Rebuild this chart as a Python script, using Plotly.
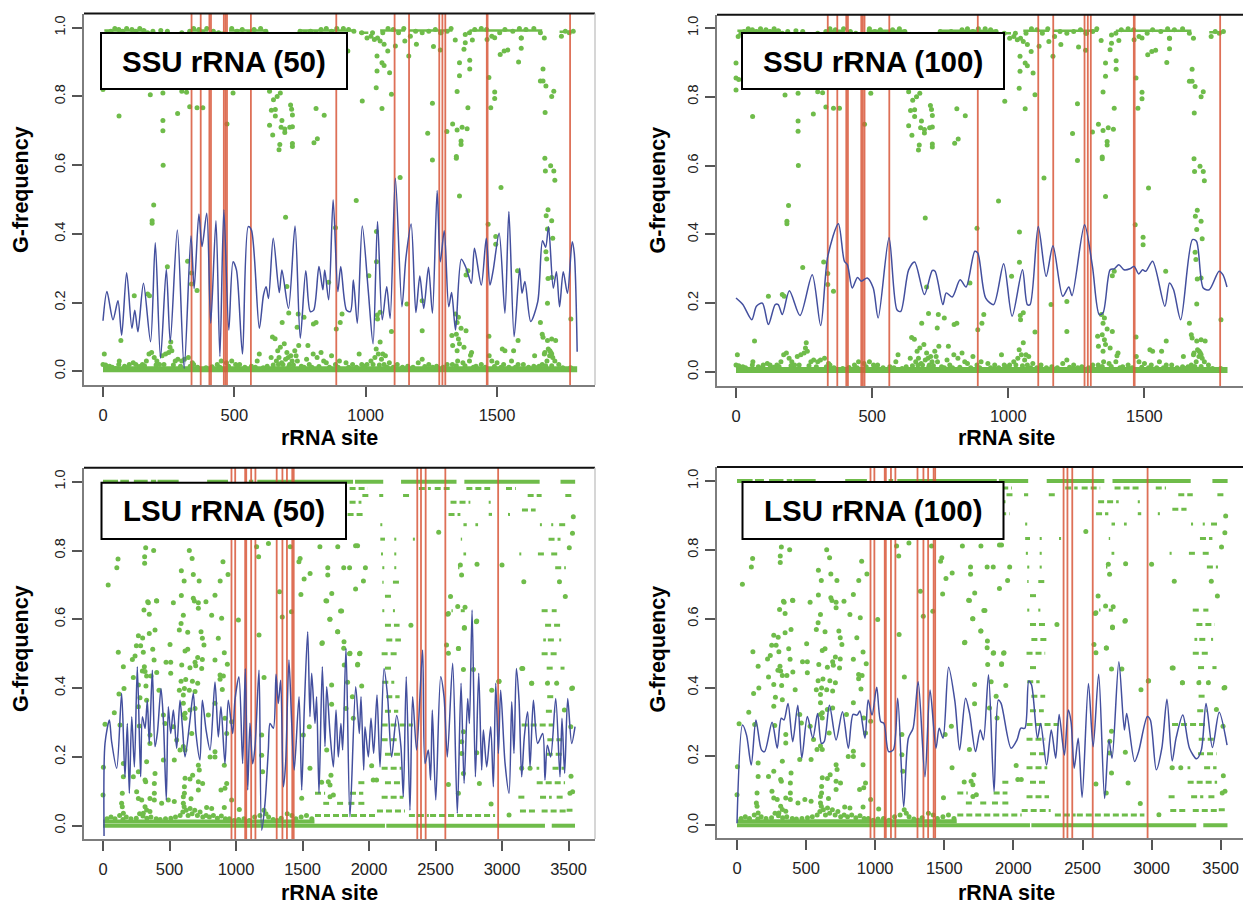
import plotly.graph_objects as go

GREEN = "#6fbc4a"
BLUE = "#434f9e"
RED = "#d9583a"

SSU_RED_SITES = [337, 372, 405, 411, 460, 466, 472, 563, 888, 1110, 1165, 1280, 1292, 1303, 1461, 1464, 1778]
LSU_RED_SITES = [966, 994, 1069, 1077, 1114, 1146, 1306, 1349, 1383, 1423, 1434, 2363, 2391, 2426, 2574, 2971]

SSU50_SITE = [0,15,38,57,71,90,110,121,133,154,181,199,219,241,256,283,309,335,347,365,377,395,410,430,445,460,479,495,508,531,553,565,595,611,621,630,648,671,681,706,731,751,772,789,802,822,837,844,859,876,894,905,927,942,953,968,987,1010,1028,1045,1063,1080,1093,1113,1138,1153,1173,1191,1206,1221,1239,1254,1272,1284,1299,1316,1327,1342,1364,1384,1402,1414,1440,1459,1473,1485,1508,1530,1545,1565,1586,1595,1606,1628,1655,1673,1685,1696,1714,1726,1738,1752,1768,1786,1794,1805]
SSU50_VALUE = [.147,.232,.15,.205,.105,.287,.125,.178,.115,.256,.086,.374,.038,.297,.086,.411,.009,.394,.241,.458,.363,.46,.14,.438,.043,.47,.12,.319,.295,.05,.421,.411,.125,.222,.246,.212,.387,.229,.295,.183,.423,.096,.293,.174,.178,.305,.237,.295,.208,.499,.232,.305,.178,.174,.266,.14,.423,.232,.08,.436,.15,.246,.154,.562,.188,.329,.429,.171,.277,.183,.303,.169,.526,.319,.409,.188,.229,.12,.326,.297,.256,.358,.251,.387,.251,.293,.402,.169,.465,.101,.30,.227,.261,.145,.203,.38,.361,.421,.242,.29,.188,.29,.227,.377,.343,.057]

SSU100_SITE = [0,25,58,75,97,119,144,155,170,196,235,280,311,337,376,398,409,427,446,460,482,504,522,562,591,605,634,656,692,721,731,760,772,794,823,845,877,888,917,946,983,1014,1052,1070,1080,1110,1139,1164,1200,1222,1234,1280,1309,1334,1348,1374,1389,1406,1425,1447,1462,1479,1493,1505,1530,1575,1592,1607,1633,1676,1691,1716,1738,1774,1788,1803]
SSU100_VALUE = [.215,.196,.152,.191,.2,.138,.196,.196,.167,.236,.164,.283,.135,.336,.431,.322,.312,.244,.275,.264,.273,.244,.157,.39,.181,.176,.297,.32,.225,.295,.293,.196,.23,.218,.268,.247,.351,.346,.215,.196,.315,.162,.297,.196,.196,.423,.278,.367,.22,.247,.222,.428,.307,.167,.172,.297,.30,.312,.297,.30,.307,.285,.297,.293,.322,.191,.259,.239,.152,.385,.38,.244,.239,.293,.283,.247]

LSU50_SITE = [8,15,48,65,103,140,165,183,198,216,236,258,283,296,316,333,348,371,391,409,436,454,476,491,509,529,554,579,597,617,654,679,699,729,747,775,805,842,867,887,917,942,975,992,1022,1050,1070,1088,1105,1125,1143,1173,1193,1218,1243,1256,1281,1301,1318,1336,1356,1373,1398,1418,1438,1474,1494,1514,1539,1556,1569,1594,1606,1624,1649,1669,1682,1707,1732,1752,1769,1789,1802,1827,1857,1900,1927,1940,1960,1970,1995,2015,2035,2060,2083,2113,2140,2170,2208,2240,2258,2280,2308,2328,2358,2403,2421,2446,2463,2476,2502,2539,2564,2589,2629,2664,2692,2715,2742,2755,2775,2800,2825,2847,2860,2885,2915,2935,2953,2973,2990,3023,3053,3073,3090,3108,3128,3148,3168,3193,3211,3236,3268,3306,3323,3341,3366,3404,3436,3451,3471,3494,3524,3549]
LSU50_VALUE = [-.03,.239,.307,.244,.167,.385,.142,.297,.094,.317,.171,.462,.142,.317,.283,.365,.239,.452,.23,.27,.399,.307,.075,.346,.268,.336,.225,.365,.288,.2,.307,.385,.268,.191,.365,.278,.22,.418,.258,.346,.18,.365,.268,.365,.433,.181,.457,.104,.298,.18,.23,.452,-.013,.065,.22,.297,.283,.44,.355,.423,.113,.181,.482,.307,.162,.375,.104,.346,.564,.317,.443,.297,.375,.094,.462,.23,.404,.268,.171,.336,.2,.297,.22,.515,.026,.404,.268,.375,.162,.288,.2,.312,.21,.38,.171,.457,.375,.2,.32,.23,.084,.433,.045,.375,.22,.511,.181,.22,.133,.336,.075,.433,.375,.2,.472,.036,.414,.123,.37,.297,.627,.142,.443,.162,.278,.171,.288,.113,.414,.21,.394,.181,.094,.36,.21,.457,.365,.142,.259,.331,.171,.365,.239,.268,.133,.234,.2,.37,.142,.312,.152,.37,.239,.288]

LSU100_SITE = [0,40,69,103,137,177,200,254,291,320,340,369,403,440,469,509,549,583,611,631,669,717,763,806,840,869,889,926,949,977,1011,1040,1063,1097,1131,1163,1206,1240,1274,1311,1360,1397,1440,1463,1491,1531,1577,1611,1654,1683,1726,1760,1783,1820,1860,1891,1911,1983,2026,2054,2083,2111,2131,2174,2197,2240,2274,2306,2331,2369,2397,2417,2440,2469,2497,2543,2577,2617,2660,2691,2714,2763,2803,2820,2877,2906,2969,2991,3034,3074,3111,3149,3177,3226,3274,3326,3360,3394,3440,3489,3546]
LSU100_VALUE = [.006,.291,.262,.175,.306,.219,.214,.299,.224,.311,.306,.354,.243,.349,.195,.316,.253,.325,.238,.243,.349,.248,.33,.224,.322,.32,.332,.253,.364,.32,.401,.301,.296,.214,.219,.369,.054,.253,.282,.417,.141,.393,.224,.282,.253,.459,.359,.219,.369,.325,.214,.277,.248,.437,.098,.364,.354,.224,.248,.282,.282,.419,.408,.253,.296,.175,.277,.195,.322,.204,.335,.301,.166,.253,.081,.412,.228,.439,.078,.248,.195,.475,.277,.325,.185,.214,.316,.306,.161,.224,.366,.187,.253,.32,.224,.193,.219,.354,.226,.328,.233]

# dense rows of points read as extents
SSU_SOLID_VALUE = [.006]
SSU_SOLID_START = [0]
SSU_SOLID_END = [1805]
SSU_TOP_VALUE = [.992,.992,.985,.992,.992,.985,.992,.992,.992,.988]
SSU_TOP_START = [5,335,420,480,745,975,1055,1165,1395,1738]
SSU_TOP_END = [165,400,465,625,960,1010,1150,1330,1672,1790]

SSU_PT_SITE = [0,0,10,0,61,180,228,228,228,229,284,330,358,380,300,318,472,495,634,649,663,675,641,656,656,634,646,681,678,692,692,714,718,721,721,711,673,670,721,721,811,842,816,803,987,1040,1062,1098,1254,1236,1254,1309,1331,1348,1367,1386,1363,1363,1345,1345,1357,1389,1348,1357,1357,1396,1396,1379,1374,1379,1341,1406,1469,1491,1491,1476,1512,1527,1541,1582,1592,1592,1665,1675,1675,1686,1716,1708,1683,1682,1684,1704,1716,1720,1515,1694,1687,1708,1692,1712,1466,1495,1495,1131,964,1041,885,695,193,187,187,245,322,337,337,358,170,177,119,1041,1012,859,700,1578,1694,1708,1689,1686,1382,1389,1157,1215,1692,1781,1665,682,707,743,765,739,801,811,910,903,888,1098,1215,1044,1055,1045,1342,1353,1348,1363,1382,1345,1353,1357,1328,1331,1348,1374,1403,1399,1469,1520,1563,1580,1672,1675,1692,1708,1723,1682,1701,1708,1643,1033,1055,1070,1084,1043,1062,1070,1043,1091,1113,1149,1193,1258,1284,1287,1164,932,903,823,1026,1462,1491,1592,
5,0,10,25,60,62,68,100,115,125,150,165,175,185,195,205,215,225,238,250,255,258,262,275,285,300,310,325,340,345,435,450,470,490,505,520,565,587,595,625,640,645,655,660,665,670,675,680,690,695,700,705,710,715,720,730,735,740,745,755,775,780,785,800,815,830,840,850,870,885,900,925,950,975,985,1005,1020,1035,1040,1048,1055,1060,1065,1070,1075,1090,1120,1160,1200,1215,1240,1270,1310,1330,1350,1370,1395,1420,1440,1470,1480,1500,1525,1530,1555,1580,1600,1640,1660,1672,1680,1690,1695,1700,1705,1712,1720,1735,
8,18,30,45,60,75,90,110,125,140,155,170,190,220,245,300,330,345,365,380,395,420,440,490,510,530,555,575,600,620,750,770,790,810,830,850,870,890,915,935,955,985,1005,1020,1045,1065,1085,1105,1125,1145,1170,1190,1215,1240,1265,1285,1310,1325,1395,1415,1440,1460,1480,1510,1530,1560,1585,1610,1640,1665,1680,1745,1760,1775,1790,
35,48,82,95,138,158,202,232,268,295,332,360,392,415,445,478,512,540,580,610,648,668,685,708,725,765,795,822,862,895,935,965,995,1028,1052,1082,1105,1140,1180,1225,1255,1295,1345,1378,1410,1455,1490,1515,1545,1570,1620,1650,1685,1708,1750,1780]
SSU_PT_VALUE = [.898,.855,.85,.82,.743,.805,.81,.73,.70,.60,.75,.77,.767,.767,.815,.812,.72,.81,.815,.79,.80,.81,.76,.762,.743,.716,.688,.73,.71,.705,.695,.775,.763,.746,.712,.71,.66,.645,.663,.654,.765,.745,.677,.665,.787,.825,.765,.806,.78,.693,.615,.698,.72,.702,.71,.706,.67,.66,.625,.62,.51,.767,.814,.86,.898,.905,.88,.956,.937,.98,.964,.964,.855,.813,.794,.767,.922,.932,.935,.90,.97,.94,.845,.845,.88,.83,.815,.80,.753,.62,.583,.598,.583,.556,.535,.47,.453,.438,.414,.387,.428,.392,.37,.564,.497,.407,.418,.448,.484,.438,.431,.304,.32,.286,.254,.235,.225,.22,.22,.319,.278,.259,.247,.293,.27,.273,.327,.348,.28,.293,.196,.205,.198,.152,.142,.142,.17,.167,.157,.128,.138,.142,.167,.142,.123,.116,.118,.164,.172,.152,.167,.157,.142,.125,.118,.108,.094,.08,.104,.075,.06,.07,.055,.047,.102,.065,.06,.09,.108,.099,.09,.094,.09,.055,.06,.05,.045,.966,.961,.952,.932,.918,.898,.89,.874,.869,.947,.961,.952,.945,.935,.985,.918,.932,.937,.932,.985,.966,.971,.97,
.05,.02,.018,.015,.02,.03,.09,.02,.025,.02,.02,.03,.05,.055,.04,.03,.02,.045,.05,.055,.07,.085,.06,.03,.035,.03,.035,.04,.025,.02,.02,.03,.025,.03,.02,.02,.015,.03,.05,.015,.04,.1,.095,.03,.06,.04,.07,.025,.08,.035,.055,.04,.02,.045,.03,.06,.045,.03,.075,.015,.035,.075,.02,.05,.04,.055,.03,.025,.045,.02,.03,.025,.02,.05,.02,.02,.03,.04,.065,.05,.085,.035,.05,.02,.045,.025,.02,.015,.025,.035,.02,.015,.02,.02,.03,.025,.03,.015,.02,.045,.03,.025,.02,.06,.03,.02,.02,.015,.015,.02,.05,.03,.065,.045,.055,.04,.03,.02,
.975,.985,.99,.998,.995,.99,.998,.995,.99,.998,.992,.985,.99,.992,.99,.985,.99,.998,.995,.985,.998,.99,.985,.998,.99,.995,.985,.995,.998,.99,.99,.985,.99,.985,.995,.998,.99,.998,.998,.995,.99,.985,.97,.975,.97,.985,.998,.995,.985,.998,.975,.99,.985,.99,.995,.985,.99,.998,.985,.995,.998,.995,.975,.985,.995,.99,.998,.995,.998,.985,.97,.975,.99,.985,.99,
.012,.008,.015,.012,.014,.016,.018,.02,.018,.015,.015,.012,.01,.013,.012,.015,.012,.012,.012,.01,.018,.02,.02,.015,.018,.012,.012,.014,.012,.012,.012,.012,.015,.02,.018,.012,.012,.012,.012,.014,.012,.012,.016,.016,.012,.012,.014,.012,.012,.012,.012,.01,.016,.016,.01,.01]

LSU_SOLID_VALUE = [0,0,0,1,1,1,1,1,1,1,1,1,1,1,1,.012]
LSU_SOLID_START = [0,2130,3374,0,130,232,360,410,783,1097,1160,1895,2241,2717,3440,0]
LSU_SOLID_END = [2120,3323,3549,113,195,336,400,569,940,1130,1880,2107,2658,3283,3550,1590]
LSU_ROW_VALUE = [.98,.98,.98,.98,.98,.96,.96,.96,.96,.96,.94,.94,.94,.905,.905,.905,.905,.918,.875,.875,.875,.875,.875,.875,.833,.833,.833,.833,.833,.79,.79,.79,.79,.79,.79,.75,.75,.75,.75,.708,.708,.667,.625,.625,.625,.625,.625,.625,.583,.583,.54,.54,.54,.54,.5,.5,.458,.458,.458,.417,.417,.417,.375,.375,.333,.333,.293,.293,.25,.25,.208,.208,.167,.167,.167,.167,.125,.125,.125,.083,.083,.083,.083,.043,.043,.043,.045,.03,.03,.03,.065,.065,.065,.065,.094,.094]
LSU_ROW_START = [1854,2375,2494,2732,3030,1950,2077,2256,3193,3476,1854,2613,2900,1839,2598,2900,3045,3150,2085,2710,2800,3285,3370,3430,2085,2190,2330,2690,3350,2090,2190,2710,3130,3270,3370,2100,2190,2670,3400,2100,2180,2120,2100,2180,2620,2690,3298,3374,2120,3324,2130,3310,3345,3430,2095,3298,2120,3336,3440,2100,3340,3410,2130,3340,2120,3330,2095,3148,2095,3341,2120,3336,2095,3150,3260,3380,2120,1920,3261,2095,3123,3286,3411,2060,3135,3298,3486,1594,2459,2300,1656,1760,1845,1920,1594,1857]
LSU_ROW_END = [1990,2465,2628,2911,3104,2010,2107,2315,3298,3535,1943,2762,2915,1973,2687,2925,3060,3253,2100,2735,2820,3300,3385,3475,2120,2205,2345,2700,3440,2105,2205,2730,3145,3330,3430,2115,2205,2680,3480,2110,2230,2170,2115,2195,2630,2720,3349,3411,2230,3456,2240,3330,3395,3445,2230,3411,2180,3385,3470,2190,3355,3420,2230,3390,2220,3400,2330,3386,2230,3461,2250,3470,2245,3165,3280,3470,2245,1970,3474,2258,3173,3374,3474,2270,3261,3486,3530,2060,2948,2450,1700,1815,1900,1970,1670,1957]

LSU_PT_SITE = [341,404,529,687,717,774,308,348,604,717,817,892,1018,587,574,637,391,266,298,348,737,747,867,1173,251,283,504,759,115,303,374,617,637,241,221,384,712,747,842,912,153,311,474,509,592,654,692,697,742,935,296,328,361,404,509,228,323,266,316,587,622,672,712,880,905,880,1211,120,158,574,612,649,604,278,328,421,692,897,85,266,454,604,617,654,842,692,15,128,273,466,529,604,617,792,917,967,667,554,353,353,930,1193,842,842,604,617,579,912,805,1193,328,454,536,1200,3,153,717,724,266,391,617,654,674,153,228,316,321,386,612,717,749,717,887,930,917,0,145,253,386,612,604,266,291,353,386,662,536,491,140,145,316,441,328,353,604,779,817,912,967,1025,153,303,
39,104,113,321,381,313,313,336,402,649,670,589,679,610,723,679,589,902,940,881,842,1155,1244,1170,1327,1348,1417,1408,1482,1473,1557,1512,1488,1631,1765,1899,1914,1690,1690,1810,1854,1973,1720,1676,1705,1786,1765,1958,1899,1646,1810,1854,1929,1914,1839,2315,2524,2583,2673,2717,2807,2687,2812,2696,2613,3000,2592,2976,3476,3432,3164,3506,3530,3536,3223,3342,3411,3530,3149,
1506,1551,1556,1494,1682,1719,1719,1714,1644,1694,1707,1732,1707,1857,1932,1915,1814,1945,1875,1882,2020,2032,2057,1827,1649,1764,1812,1707,1794,1682,2667,2722,2810,2717,2672,2710,2597,2597,2785,2923,2978,2710,2697,2697,2710,2672,2918,3053,2830,2597,2810,3156,3223,3211,3148,3524,3519,3531,3511,3469,3517,
30,60,90,125,150,175,210,250,275,300,330,360,400,430,470,510,545,580,600,610,625,640,655,670,690,710,730,750,775,800,830,860,890,920,950,985,1020,1060,1100,1140,1180,1210,1225,1245,1280,1310,1340,1385,1420,1450,1490,1530,1570]
LSU_PT_VALUE = [.648,.653,.648,.653,.648,.651,.627,.615,.612,.632,.612,.603,.598,.588,.569,.562,.569,.552,.546,.559,.564,.545,.545,.554,.523,.523,.527,.525,.504,.504,.513,.508,.513,.493,.483,.482,.489,.483,.482,.503,.462,.462,.475,.475,.467,.459,.475,.465,.457,.469,.45,.435,.435,.445,.443,.431,.406,.409,.448,.42,.425,.42,.414,.438,.435,.426,.431,.383,.399,.394,.399,.394,.38,.372,.365,.394,.39,.396,.328,.346,.322,.356,.327,.336,.356,.341,.295,.293,.29,.297,.288,.322,.312,.322,.312,.302,.268,.249,.264,.239,.268,.264,.215,.2,.23,.22,.22,.176,.2,.205,.186,.191,.191,.157,.17,.181,.176,.162,.157,.152,.138,.136,.147,.142,.142,.133,.128,.123,.113,.128,.123,.104,.104,.123,.109,.089,.094,.099,.094,.094,.084,.079,.075,.079,.075,.078,.07,.075,.065,.055,.055,.065,.046,.041,.065,.053,.05,.053,.075,.047,.036,.036,
.70,.75,.775,.808,.80,.782,.763,.651,.654,.80,.777,.741,.73,.711,.711,.661,.669,.767,.73,.711,.67,.811,.82,.782,.68,.607,.622,.811,.777,.767,.733,.717,.672,.811,.811,.814,.814,.75,.729,.75,.75,.75,.675,.654,.60,.624,.564,.711,.688,.53,.516,.5,.5,.467,.417,.583,.853,.525,.515,.574,.593,.758,.76,.729,.666,.758,.615,.419,.666,.709,.709,.808,.85,.898,.414,.414,.414,.40,.457,
.264,.288,.167,.08,.22,.409,.353,.147,.126,.128,.118,.089,.084,.501,.501,.469,.467,.406,.375,.312,.174,.133,.133,.341,.532,.564,.535,.6,.624,.653,.637,.635,.595,.576,.515,.454,.501,.617,.454,.394,.42,.273,.244,.21,.152,.094,.063,.031,.123,.12,.212,.457,.414,.167,.167,.399,.144,.099,.094,.336,.288,
.02,.025,.02,.03,.018,.025,.02,.022,.035,.028,.022,.025,.02,.018,.02,.022,.025,.03,.04,.055,.045,.03,.05,.035,.045,.03,.04,.025,.03,.025,.03,.022,.028,.02,.02,.015,.018,.02,.015,.025,.03,.045,.035,.025,.018,.015,.022,.035,.03,.02,.025,.03,.02]

LABELS = ["SSU rRNA (50)", "SSU rRNA (100)", "LSU rRNA (50)", "LSU rRNA (100)"]
TICKS_SSU = [0, 500, 1000, 1500]
TICKS_LSU = [0, 500, 1000, 1500, 2000, 2500, 3000, 3500]
TICKS_Y = [0.0, 0.2, 0.4, 0.6, 0.8, 1.0]

W, H = 1243, 907
FONT = "Liberation Sans"

PANELS = [
    dict(px=(84, 595), py=(13.5, 385), x0=103, xs=.2627, y0=371.3, y1=27.7, box=(101, 347, 33, 89), ticks=TICKS_SSU, line=(SSU50_SITE, SSU50_VALUE), kind="S", red=SSU_RED_SITES, ty=(21, 190), tx=(329, 438)),
    dict(px=(717, 1243), py=(14.7, 386), x0=736, xs=.2723, y0=372, y1=28, box=(742, 1004, 33, 89), ticks=TICKS_SSU, line=(SSU100_SITE, SSU100_VALUE), kind="S", red=SSU_RED_SITES, ty=(657.5, 190), tx=(1006, 438)),
    dict(px=(84, 595), py=(467.7, 839), x0=103, xs=.133, y0=825.7, y1=481.7, box=(101.5, 346, 482.7, 539), ticks=TICKS_LSU, line=(LSU50_SITE, LSU50_VALUE), kind="L", red=LSU_RED_SITES, ty=(21, 649), tx=(329, 892.5)),
    dict(px=(717, 1243), py=(467, 838.3), x0=737, xs=.1382, y0=825.3, y1=481, box=(742.5, 1003.5, 482, 539), ticks=TICKS_LSU, line=(LSU100_SITE, LSU100_VALUE), kind="L", red=LSU_RED_SITES, ty=(657.5, 649), tx=(1006, 892.5)),
]


def segs(values, starts, ends):
    xs, ys = [], []
    for v, a, b in zip(values, starts, ends):
        xs += [a, b, None]
        ys += [v, v, None]
    return xs, ys


fig = go.Figure()
layout = dict(width=W, height=H, margin=dict(l=0, r=0, t=0, b=0), showlegend=False,
              paper_bgcolor="white", plot_bgcolor="white",
              font=dict(family=FONT, color="#1a1a1a"))
shapes, annotations = [], []

for i, p in enumerate(PANELS):
    n = "" if i == 0 else str(i + 1)
    xa, ya = "x" + n, "y" + n
    rng_x = [(p["px"][0] - p["x0"]) / p["xs"], (p["px"][1] - p["x0"]) / p["xs"]]
    sy = (p["y0"] - p["y1"])
    rng_y = [(p["y0"] - p["py"][1]) / sy, (p["y0"] - p["py"][0]) / sy]
    common = dict(showgrid=False, zeroline=False, showline=True, linecolor="#7d7d7d", linewidth=2,
                  ticks="outside", ticklen=10, tickwidth=1.5, tickcolor="#555555")
    layout["xaxis" + n] = dict(common, domain=[p["px"][0] / W, p["px"][1] / W], range=rng_x, anchor=ya,
                               tickvals=p["ticks"], ticktext=[str(t) for t in p["ticks"]], tickangle=0,
                               ticklabelstandoff=4,
                               tickfont=dict(size=16.5, family=FONT, color="#222222"))
    layout["yaxis" + n] = dict(common, domain=[1 - p["py"][1] / H, 1 - p["py"][0] / H], range=rng_y, anchor=xa,
                               tickvals=TICKS_Y, ticktext=["%.1f" % t for t in TICKS_Y], tickangle=-90,
                               ticklabelstandoff=1,
                               tickfont=dict(size=14.5, family=FONT, color="#222222"))

    if p["kind"] == "S":
        bx, by = segs(SSU_SOLID_VALUE, SSU_SOLID_START, SSU_SOLID_END)
        dx, dy = segs(SSU_TOP_VALUE, SSU_TOP_START, SSU_TOP_END)
        bw, dw, dash = 6, 2.5, "solid"
        ptx, pty = SSU_PT_SITE, SSU_PT_VALUE
    else:
        bx, by = segs(LSU_SOLID_VALUE, LSU_SOLID_START, LSU_SOLID_END)
        dx, dy = segs(LSU_ROW_VALUE, LSU_ROW_START, LSU_ROW_END)
        bw, dw, dash = 4, 3, "6px,3px"
        ptx, pty = LSU_PT_SITE, LSU_PT_VALUE
    fig.add_trace(go.Scatter(x=bx, y=by, mode="lines", xaxis=xa, yaxis=ya, hoverinfo="skip",
                             line=dict(color=GREEN, width=bw)))
    fig.add_trace(go.Scatter(x=dx, y=dy, mode="lines", xaxis=xa, yaxis=ya, hoverinfo="skip",
                             line=dict(color=GREEN, width=dw, dash=dash)))
    fig.add_trace(go.Scatter(x=ptx, y=pty, mode="markers", xaxis=xa, yaxis=ya,
                             marker=dict(color=GREEN, size=5, line=dict(width=0))))
    rx, ry = [], []
    for s in p["red"]:
        rx += [s, s, None]
        ry += [rng_y[0], rng_y[1], None]
    fig.add_trace(go.Scatter(x=rx, y=ry, mode="lines", xaxis=xa, yaxis=ya, hoverinfo="skip",
                             line=dict(color=RED, width=1.8), opacity=.85))
    fig.add_trace(go.Scatter(x=p["line"][0], y=p["line"][1], mode="lines", xaxis=xa, yaxis=ya,
                             line=dict(color=BLUE, width=1.5, shape="spline", smoothing=.8)))

    # top edge in black, right edge in light grey
    shapes.append(dict(type="line", xref=xa + " domain", yref=ya + " domain", x0=0, x1=1, y0=1, y1=1,
                       line=dict(color="#111111", width=2), layer="above"))
    if p["px"][1] < W:
        shapes.append(dict(type="line", xref=xa + " domain", yref=ya + " domain", x0=1, x1=1, y0=0, y1=1,
                           line=dict(color="#c8c8c8", width=1.5), layer="above"))
    l, r, t, b = p["box"]
    shapes.append(dict(type="rect", xref="paper", yref="paper", x0=l / W, x1=r / W, y0=1 - b / H, y1=1 - t / H,
                       fillcolor="white", line=dict(color="black", width=2), layer="above"))
    annotations.append(dict(text="<b>%s</b>" % LABELS[i], xref="paper", yref="paper",
                            x=(l + r) / 2 / W, y=1 - (t + b) / 2 / H, showarrow=False,
                            xanchor="center", yanchor="middle",
                            font=dict(size=29.5, family=FONT, color="black")))
    annotations.append(dict(text="<b>G-frequency</b>", xref="paper", yref="paper", textangle=-90,
                            x=p["ty"][0] / W, y=1 - p["ty"][1] / H, showarrow=False,
                            xanchor="center", yanchor="middle",
                            font=dict(size=21.5, family=FONT, color="black")))
    annotations.append(dict(text="<b>rRNA site</b>", xref="paper", yref="paper",
                            x=p["tx"][0] / W, y=1 - p["tx"][1] / H, showarrow=False,
                            xanchor="center", yanchor="middle",
                            font=dict(size=21.5, family=FONT, color="black")))

layout["shapes"] = shapes
layout["annotations"] = annotations
fig.update_layout(**layout)
fig.write_html("out.html", config=dict(displayModeBar=False, responsive=False),
               post_script="document.body.style.margin='0';document.body.style.overflow='hidden';")
